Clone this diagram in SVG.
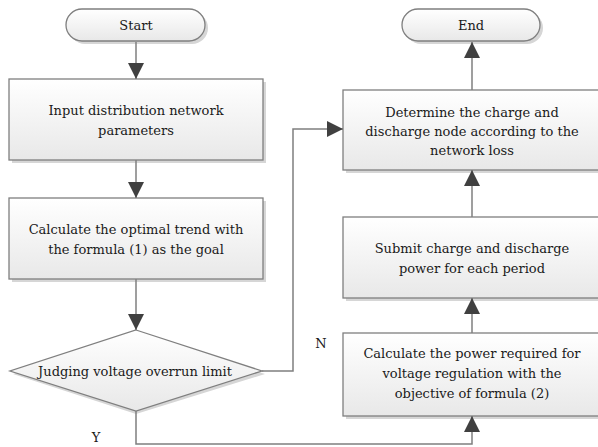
<svg xmlns="http://www.w3.org/2000/svg" width="598" height="447" viewBox="0 0 598 447">
<style>
.node{fill:url(#g);stroke:#7f7f7f;stroke-width:1.3}
.sh{fill:#d6d6d6;stroke:none}
.t{font-family:'DejaVu Serif','Liberation Serif',serif;font-size:13px;fill:#1a1a1a;text-anchor:middle}
.c{fill:none;stroke:#7f7f7f;stroke-width:1.5}
</style>
<defs>
<linearGradient id="g" x1="0" y1="0" x2="0" y2="1">
<stop offset="0" stop-color="#ffffff"/>
<stop offset="1" stop-color="#e8e8e8"/>
</linearGradient>
<marker id="a" markerUnits="userSpaceOnUse" markerWidth="16" markerHeight="16" viewBox="0 0 16 16" refX="16" refY="8" orient="auto">
<path d="M0,0 L16,8 L0,16 z" fill="#404040"/>
</marker>
</defs>
<rect width="598" height="447" fill="#ffffff"/>
<g id="start">
<rect class="sh" x="69" y="12" width="139" height="32" rx="16"/>
<rect class="node" x="66" y="9" width="139" height="32" rx="16"/>
<text class="t" x="136" y="30">Start</text>
</g>
<g id="end">
<rect class="sh" x="405" y="12" width="138" height="32" rx="16"/>
<rect class="node" x="402" y="9" width="138" height="32" rx="16"/>
<text class="t" x="471" y="30">End</text>
</g>
<g id="input">
<rect class="sh" x="12" y="82" width="254" height="81"/>
<rect class="node" x="9" y="79" width="254" height="81"/>
<text class="t" x="136" y="115">Input distribution network</text>
<text class="t" x="136" y="135">parameters</text>
</g>
<g id="calc1">
<rect class="sh" x="12" y="201" width="254" height="81"/>
<rect class="node" x="9" y="198" width="254" height="81"/>
<text class="t" x="136" y="234">Calculate the optimal trend with</text>
<text class="t" x="136" y="254">the formula (1) as the goal</text>
</g>
<g id="judge">
<polygon class="sh" points="136,333 265,374 136,414 13,374"/>
<polygon class="node" points="136,330 262,371 136,411 10,371"/>
<text class="t" x="135" y="376">Judging voltage overrun limit</text>
</g>
<g id="determine">
<rect class="sh" x="346" y="93" width="258" height="80"/>
<rect class="node" x="343" y="90" width="258" height="80"/>
<text class="t" x="472" y="117">Determine the charge and</text>
<text class="t" x="472" y="136">discharge node according to the</text>
<text class="t" x="472" y="155">network loss</text>
</g>
<g id="submit">
<rect class="sh" x="346" y="220" width="258" height="81"/>
<rect class="node" x="343" y="217" width="258" height="81"/>
<text class="t" x="472" y="253">Submit charge and discharge</text>
<text class="t" x="472" y="273">power for each period</text>
</g>
<g id="calc2">
<rect class="sh" x="346" y="336" width="258" height="83"/>
<rect class="node" x="343" y="333" width="258" height="83"/>
<text class="t" x="472" y="358">Calculate the power required for</text>
<text class="t" x="472" y="378">voltage regulation with the</text>
<text class="t" x="472" y="398">objective of formula (2)</text>
</g>
<g id="connectors">
<path class="c" d="M136 42 V79" marker-end="url(#a)"/>
<path class="c" d="M136 160 V198" marker-end="url(#a)"/>
<path class="c" d="M136 279 V330" marker-end="url(#a)"/>
<path class="c" d="M136 411 V444 H472 V416" marker-end="url(#a)"/>
<path class="c" d="M262 371 H293 V129 H343" marker-end="url(#a)"/>
<path class="c" d="M472 333 V298" marker-end="url(#a)"/>
<path class="c" d="M472 217 V170" marker-end="url(#a)"/>
<path class="c" d="M472 90 V42" marker-end="url(#a)"/>
<text class="t" x="96" y="442">Y</text>
<text class="t" x="321" y="348">N</text>
</g>
</svg>
